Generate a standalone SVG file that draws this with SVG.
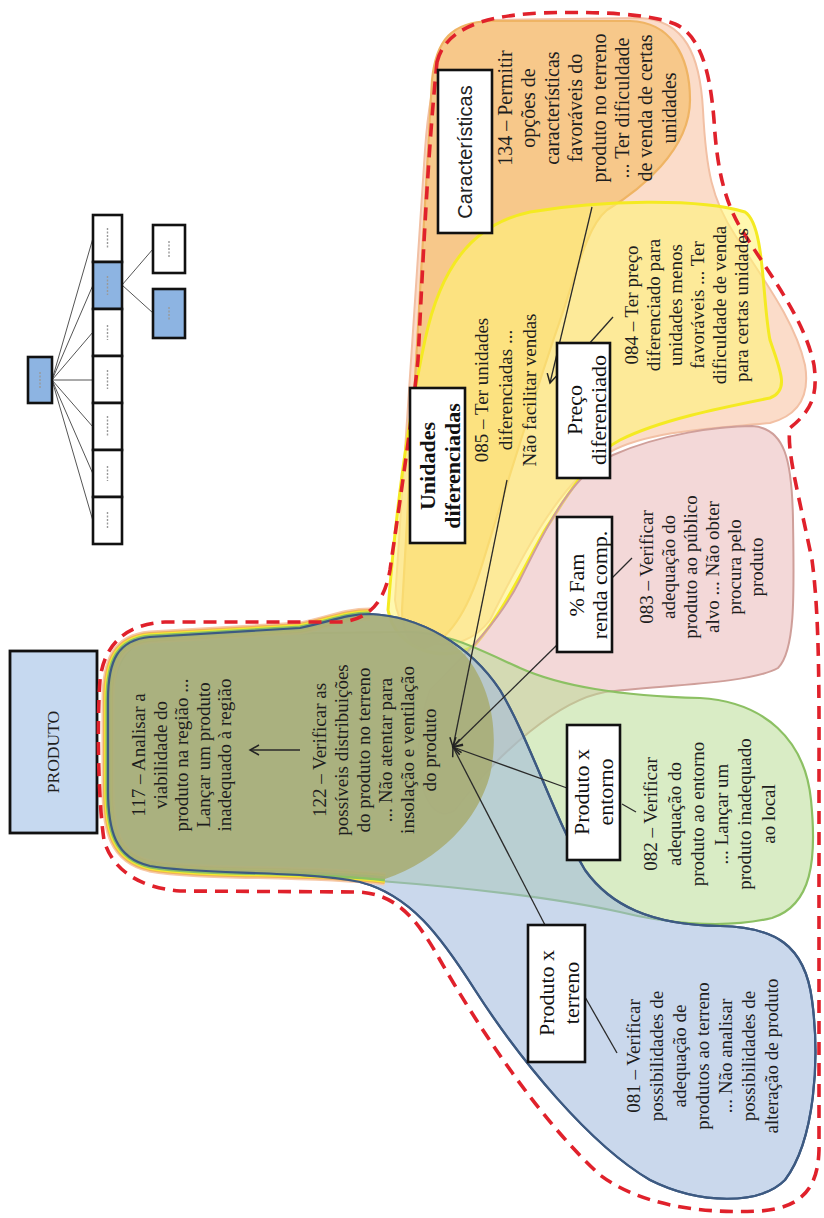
<svg xmlns="http://www.w3.org/2000/svg" width="824" height="1218" viewBox="0 0 824 1218">
  <style>
    .txt { font-family: "Liberation Serif", "Times New Roman", serif; font-size: 19px; fill: #1e1e1e; }
    .txt20 { font-family: "Liberation Serif", "Times New Roman", serif; font-size: 20px; fill: #1e1e1e; }
    .lbl { font-family: "Liberation Serif", "Times New Roman", serif; font-size: 22px; fill: #111; }
    .lblb { font-family: "Liberation Serif", "Times New Roman", serif; font-size: 22px; font-weight: bold; fill: #111; }
    .sans { font-family: "Liberation Sans", Arial, sans-serif; font-size: 20px; fill: #222; }
    .box { fill: #ffffff; stroke: #111; stroke-width: 2.6; }
    .mini { fill: #ffffff; stroke: #111; stroke-width: 2.6; }
    .mini-blue { fill: #8db4e2; stroke: #111; stroke-width: 2.6; }
    .mini-link { stroke: #555; stroke-width: 1; fill: none; }
    .mini-mark { stroke: #999; stroke-width: 1.4; stroke-dasharray: 2 1.5; fill: none; }
    .conn { stroke: #2a2a2a; stroke-width: 1.3; fill: none; }
    .outline { fill: none; stroke: #e0212b; stroke-width: 3.6; stroke-dasharray: 13 8; }
  </style>
  <defs>
    <marker id="arrow" markerUnits="userSpaceOnUse" markerWidth="14" markerHeight="14" refX="10" refY="6" orient="auto">
      <path d="M1,1 L10,6 L1,11" fill="none" stroke="#222" stroke-width="1.5"/>
    </marker>
  </defs>

  <!-- small hierarchy sketch -->
  <g id="mini-tree">
    <g class="mini-link">
      <line x1="52" y1="380" x2="93" y2="238"/>
      <line x1="52" y1="380" x2="93" y2="285"/>
      <line x1="52" y1="380" x2="93" y2="332"/>
      <line x1="52" y1="380" x2="93" y2="380"/>
      <line x1="52" y1="380" x2="93" y2="427"/>
      <line x1="52" y1="380" x2="93" y2="474"/>
      <line x1="52" y1="380" x2="93" y2="521"/>
      <line x1="122" y1="285" x2="153" y2="249"/>
      <line x1="122" y1="285" x2="153" y2="313"/>
    </g>
    <rect id="mini-root" class="mini-blue" x="28" y="357" width="24" height="46"/>
    <rect class="mini" x="93" y="215" width="29" height="47"/>
    <rect class="mini-blue" x="93" y="262" width="29" height="47"/>
    <rect class="mini" x="93" y="309" width="29" height="47"/>
    <rect class="mini" x="93" y="356" width="29" height="47"/>
    <rect class="mini" x="93" y="403" width="29" height="47"/>
    <rect class="mini" x="93" y="450" width="29" height="47"/>
    <rect class="mini" x="93" y="497" width="29" height="47"/>
    <rect class="mini" x="153" y="225" width="32" height="48"/>
    <rect class="mini-blue" x="153" y="289" width="32" height="49"/>
    <g class="mini-mark">
      <line x1="40" y1="372" x2="40" y2="388"/>
      <line x1="107.5" y1="228" x2="107.5" y2="248"/>
      <line x1="107.5" y1="276" x2="107.5" y2="295"/>
      <line x1="107.5" y1="325" x2="107.5" y2="340"/>
      <line x1="107.5" y1="370" x2="107.5" y2="389"/>
      <line x1="107.5" y1="416" x2="107.5" y2="437"/>
      <line x1="107.5" y1="466" x2="107.5" y2="481"/>
      <line x1="107.5" y1="512" x2="107.5" y2="529"/>
      <line x1="169" y1="241" x2="169" y2="257"/>
      <line x1="169" y1="307" x2="169" y2="320"/>
    </g>
  </g>

  <!-- main node -->
  <g id="node-produto">
    <rect x="10" y="651" width="87" height="182" fill="#c6d9f0" stroke="#111" stroke-width="2.8"/>
    <text class="txt" style="font-size:17.5px" transform="translate(0 752) rotate(-90)" x="0" y="59" text-anchor="middle">PRODUTO</text>
  </g>

  <!-- overlapping regions -->
  <g id="regions">
    <!-- peach envelope of the upper arm -->
    <path d="M 395 600 C 402 500, 415 300, 425 150 C 430 80, 440 30, 490 20 L 640 18 C 685 20, 700 55, 703 110 C 706 170, 712 200, 735 235 C 760 275, 795 320, 805 365 C 810 395, 800 415, 770 423 C 720 428, 650 430, 610 452 C 560 480, 520 560, 490 620 C 460 660, 400 650, 395 600 Z" fill="#fbdcc9" stroke="#f2c0a4" stroke-width="2"/>
    <!-- Características -->
    <path d="M 402 610 C 408 480, 420 280, 432 80 C 436 40, 452 22, 490 21 L 630 21 C 670 22, 690 55, 690 100 C 690 150, 640 190, 607 210 C 585 228, 575 280, 555 335 C 530 410, 505 490, 482 565 C 468 610, 450 640, 425 648 C 410 648, 402 630, 402 610 Z" fill="#f7c88a" stroke="#efb464" stroke-width="2.2"/>
    <!-- Unidades / Preço diferenciado -->
    <path d="M 388 610 C 395 520, 408 420, 425 340 C 440 270, 470 225, 530 212 C 600 200, 700 198, 745 212 C 765 225, 762 300, 770 340 C 780 370, 790 390, 770 398 C 720 408, 660 420, 620 440 C 590 455, 565 500, 545 530 C 525 565, 505 610, 475 645 C 445 665, 395 650, 388 610 Z" fill="#fff37a" fill-opacity="0.6" stroke="#f4ea22" stroke-width="3"/>
    <!-- % Fam renda comp. -->
    <path d="M 430 690 C 470 650, 500 620, 520 580 C 545 530, 570 475, 613 455 C 660 434, 720 426, 752 426 C 785 428, 792 460, 793 520 C 794 590, 796 650, 778 668 C 750 684, 660 685, 605 692 C 560 700, 500 750, 455 810 C 425 830, 405 760, 430 690 Z" fill="#eab8b8" fill-opacity="0.55" stroke="#cf9f9a" stroke-width="2"/>
    <!-- Produto x entorno -->
    <path d="M 112 720 C 110 665, 125 640, 165 635 L 400 632 C 445 630, 480 650, 520 668 C 560 686, 620 696, 700 698 C 765 702, 805 740, 811 800 C 817 860, 812 905, 772 918 C 722 930, 660 922, 620 912 C 555 898, 470 888, 380 881 C 280 874, 170 876, 140 863 C 115 852, 112 820, 112 790 Z" fill="#b9dc96" fill-opacity="0.55" stroke="#8cc063" stroke-width="2.2"/>
    <!-- Produto x terreno -->
    <path id="blue-shape" d="M 108 700 C 108 660, 118 640, 150 637 L 300 628 C 330 622, 345 614, 370 614 C 420 616, 470 645, 500 690 C 530 740, 555 820, 585 870 C 610 905, 650 925, 720 926 C 775 927, 805 945, 812 1000 C 820 1060, 815 1140, 785 1180 C 760 1205, 700 1205, 650 1180 C 590 1145, 520 1060, 475 990 C 440 935, 410 895, 360 882 C 300 870, 200 875, 150 866 C 115 858, 108 830, 108 790 Z" fill="#9fb8dd" fill-opacity="0.55" stroke="#3d5a82" stroke-width="2.2"/>
    <!-- stacked edges of the shared lobe -->
    <g fill="none">
      <path d="M 385 879 C 300 870, 200 875, 150 866 C 115 858, 108 830, 108 790 L 108 700 C 108 660, 118 640, 150 637 L 300 628 C 330 622, 345 614, 370 614" stroke="#f6c9a8" stroke-width="13"/>
      <path d="M 385 879 C 300 870, 200 875, 150 866 C 115 858, 108 830, 108 790 L 108 700 C 108 660, 118 640, 150 637 L 300 628 C 330 622, 345 614, 370 614" stroke="#f0b25c" stroke-width="10"/>
      <path d="M 385 879 C 300 870, 200 875, 150 866 C 115 858, 108 830, 108 790 L 108 700 C 108 660, 118 640, 150 637 L 300 628 C 330 622, 345 614, 370 614" stroke="#f3ea2e" stroke-width="7.5"/>
      <path d="M 385 879 C 300 870, 200 875, 150 866 C 115 858, 108 830, 108 790 L 108 700 C 108 660, 118 640, 150 637 L 300 628 C 330 622, 345 614, 370 614" stroke="#8cc063" stroke-width="5"/>
    </g>
    <!-- shared lobe -->
    <path d="M 108 700 C 108 660, 118 640, 150 637 L 300 628 C 330 622, 345 614, 370 614 C 410 615, 440 630, 465 655 C 490 685, 500 730, 490 775 C 478 820, 440 860, 385 879 C 300 870, 200 875, 150 866 C 115 858, 108 830, 108 790 Z" fill="#a9ae79" fill-opacity="0.93"/>
    <path d="M 108 700 C 108 660, 118 640, 150 637 L 300 628 C 330 622, 345 614, 370 614 C 420 616, 470 645, 500 690 C 530 740, 555 820, 585 870 C 610 905, 650 925, 720 926 C 775 927, 805 945, 812 1000 C 820 1060, 815 1140, 785 1180 C 760 1205, 700 1205, 650 1180 C 590 1145, 520 1060, 475 990 C 440 935, 410 895, 360 882 C 300 870, 200 875, 150 866 C 115 858, 108 830, 108 790 Z" fill="none" stroke="#3d5a82" stroke-width="2.2"/>
    <!-- dashed boundary -->
    <path class="outline" d="M 437 62 C 445 30, 480 16, 540 13 C 600 11, 650 14, 675 24 C 700 35, 710 70, 714 120 C 717 170, 725 205, 745 235 C 770 275, 805 320, 814 365 C 818 395, 812 410, 790 428 C 786 450, 800 500, 812 560 C 820 620, 819 700, 819 800 L 819 1150 C 818 1190, 800 1208, 760 1211 C 700 1214, 640 1205, 600 1175 C 540 1120, 480 1030, 440 960 C 415 915, 395 895, 360 892 L 180 891 C 140 888, 112 870, 104 840 C 98 800, 97 720, 100 680 C 104 645, 125 624, 165 622 L 340 622 C 370 620, 385 600, 390 570 C 400 500, 412 420, 418 360 C 423 260, 428 150, 437 62 Z"/>
  </g>

  <!-- connectors -->
  <g id="connectors">
    <line class="conn" x1="592" y1="207" x2="550" y2="383" marker-end="url(#arrow)"/>
    <line class="conn" x1="613" y1="317" x2="588" y2="345"/>
    <line class="conn" x1="507" y1="480" x2="453" y2="747" marker-end="url(#arrow)"/>
    <line class="conn" x1="557" y1="645" x2="453" y2="747" marker-end="url(#arrow)"/>
    <line class="conn" x1="632" y1="558" x2="612" y2="578"/>
    <line class="conn" x1="567" y1="788" x2="453" y2="747" marker-end="url(#arrow)"/>
    <line class="conn" x1="636" y1="812" x2="622" y2="804"/>
    <line class="conn" x1="545" y1="925" x2="453" y2="747" marker-end="url(#arrow)"/>
    <line class="conn" x1="617" y1="1053" x2="585" y2="997"/>
    <line class="conn" x1="300" y1="750" x2="250" y2="750" marker-end="url(#arrow)"/>
  </g>

  <!-- text of the shared lobe -->
  <g id="node-117" transform="translate(0 755) rotate(-90)">
    <text class="txt" x="0" y="145" text-anchor="middle">117 – Analisar a</text>
    <text class="txt" x="0" y="166.5" text-anchor="middle">viabilidade do</text>
    <text class="txt" x="0" y="188" text-anchor="middle">produto na região ...</text>
    <text class="txt" x="0" y="209.5" text-anchor="middle">Lançar um produto</text>
    <text class="txt" x="0" y="231" text-anchor="middle">inadequado à região</text>
  </g>
  <g id="node-122" transform="translate(0 750) rotate(-90)">
    <text class="txt" x="0" y="326" text-anchor="middle">122 – Verificar as</text>
    <text class="txt" x="0" y="348" text-anchor="middle">possíveis distribuições</text>
    <text class="txt" x="0" y="370" text-anchor="middle">do produto no terreno</text>
    <text class="txt" x="0" y="392" text-anchor="middle">... Não atentar para</text>
    <text class="txt" x="0" y="414" text-anchor="middle">insolação e ventilação</text>
    <text class="txt" x="0" y="436" text-anchor="middle">do produto</text>
  </g>

  <!-- Características -->
  <g id="node-caracteristicas">
    <rect class="box" x="438" y="70" width="54" height="163"/>
    <text class="sans" transform="translate(0 152) rotate(-90)" x="0" y="472" text-anchor="middle">Características</text>
  </g>
  <g id="node-134" transform="translate(0 108) rotate(-90)">
    <text class="txt20" x="0" y="512" text-anchor="middle">134 – Permitir</text>
    <text class="txt20" x="0" y="535" text-anchor="middle">opções de</text>
    <text class="txt20" x="0" y="559" text-anchor="middle">características</text>
    <text class="txt20" x="0" y="582" text-anchor="middle">favoráveis do</text>
    <text class="txt20" x="0" y="606" text-anchor="middle">produto no terreno</text>
    <text class="txt20" x="0" y="629" text-anchor="middle">... Ter dificuldade</text>
    <text class="txt20" x="0" y="652" text-anchor="middle">de venda de certas</text>
    <text class="txt20" x="0" y="676" text-anchor="middle">unidades</text>
  </g>

  <!-- Unidades diferenciadas -->
  <g id="node-unidades">
    <rect class="box" x="410" y="388" width="55" height="155"/>
    <g transform="translate(0 466) rotate(-90)">
      <text class="lblb" x="0" y="435" text-anchor="middle">Unidades</text>
      <text class="lblb" x="0" y="460" text-anchor="middle">diferenciadas</text>
    </g>
  </g>
  <g id="node-085" transform="translate(0 390) rotate(-90)">
    <text class="txt" x="0" y="488" text-anchor="middle">085 – Ter unidades</text>
    <text class="txt" x="0" y="512" text-anchor="middle">diferenciadas ...</text>
    <text class="txt" x="0" y="536" text-anchor="middle">Não facilitar vendas</text>
  </g>

  <!-- Preço diferenciado -->
  <g id="node-preco">
    <rect class="box" x="557" y="343" width="53" height="135"/>
    <g transform="translate(0 410) rotate(-90)">
      <text class="lbl" x="0" y="582" text-anchor="middle">Preço</text>
      <text class="lbl" x="0" y="606" text-anchor="middle">diferenciado</text>
    </g>
  </g>
  <g id="node-084" transform="translate(0 305) rotate(-90)">
    <text class="txt" x="0" y="638" text-anchor="middle">084 – Ter preço</text>
    <text class="txt" x="0" y="660" text-anchor="middle">diferenciado para</text>
    <text class="txt" x="0" y="682" text-anchor="middle">unidades menos</text>
    <text class="txt" x="0" y="704" text-anchor="middle">favoráveis ... Ter</text>
    <text class="txt" x="0" y="726" text-anchor="middle">dificuldade de venda</text>
    <text class="txt" x="0" y="748" text-anchor="middle">para certas unidades</text>
  </g>

  <!-- % Fam renda comp. -->
  <g id="node-fam">
    <rect class="box" x="557" y="517" width="55" height="135"/>
    <g transform="translate(0 585) rotate(-90)">
      <text class="lbl" x="0" y="584" text-anchor="middle">% Fam</text>
      <text class="lbl" x="0" y="607" text-anchor="middle">renda comp.</text>
    </g>
  </g>
  <g id="node-083" transform="translate(0 567) rotate(-90)">
    <text class="txt" x="0" y="653" text-anchor="middle">083 – Verificar</text>
    <text class="txt" x="0" y="675" text-anchor="middle">adequação do</text>
    <text class="txt" x="0" y="697" text-anchor="middle">produto ao público</text>
    <text class="txt" x="0" y="719" text-anchor="middle">alvo ... Não obter</text>
    <text class="txt" x="0" y="741" text-anchor="middle">procura pelo</text>
    <text class="txt" x="0" y="763" text-anchor="middle">produto</text>
  </g>

  <!-- Produto x entorno -->
  <g id="node-entorno">
    <rect class="box" x="567" y="725" width="53" height="135"/>
    <g transform="translate(0 792) rotate(-90)">
      <text class="lbl" x="0" y="589" text-anchor="middle">Produto x</text>
      <text class="lbl" x="0" y="613" text-anchor="middle">entorno</text>
    </g>
  </g>
  <g id="node-082" transform="translate(0 814) rotate(-90)">
    <text class="txt" x="0" y="657" text-anchor="middle">082 – Verificar</text>
    <text class="txt" x="0" y="681" text-anchor="middle">adequação do</text>
    <text class="txt" x="0" y="704" text-anchor="middle">produto ao entorno</text>
    <text class="txt" x="0" y="728" text-anchor="middle">... Lançar um</text>
    <text class="txt" x="0" y="751" text-anchor="middle">produto inadequado</text>
    <text class="txt" x="0" y="775" text-anchor="middle">ao local</text>
  </g>

  <!-- Produto x terreno -->
  <g id="node-terreno">
    <rect class="box" x="528" y="925" width="57" height="137"/>
    <g transform="translate(0 993) rotate(-90)">
      <text class="lbl" x="0" y="554" text-anchor="middle">Produto x</text>
      <text class="lbl" x="0" y="579" text-anchor="middle">terreno</text>
    </g>
  </g>
  <g id="node-081" transform="translate(0 1056) rotate(-90)">
    <text class="txt" x="0" y="640" text-anchor="middle">081 – Verificar</text>
    <text class="txt" x="0" y="663" text-anchor="middle">possibilidades de</text>
    <text class="txt" x="0" y="686" text-anchor="middle">adequação de</text>
    <text class="txt" x="0" y="709" text-anchor="middle">produtos ao terreno</text>
    <text class="txt" x="0" y="732" text-anchor="middle">... Não analisar</text>
    <text class="txt" x="0" y="755" text-anchor="middle">possibilidades de</text>
    <text class="txt" x="0" y="778" text-anchor="middle">alteração de produto</text>
  </g>
</svg>
